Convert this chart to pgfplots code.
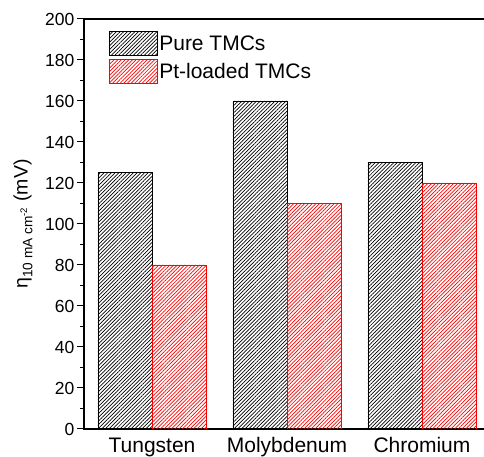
\documentclass[border=0pt]{standalone}
\usepackage{fontspec}
\setmainfont{Liberation Sans}
\usepackage{pgfplots}
\pgfplotsset{compat=1.18}
\usetikzlibrary{patterns.meta}

\tikzset{
  hatch/.style={pattern={Lines[angle=45,distance=2.6pt,line width=0.7pt]}, pattern color=#1, draw=#1, line width=0.9pt},
}

\begin{document}
\begin{tikzpicture}
\useasboundingbox (-84pt,-28pt) rectangle (400pt,429pt);
\begin{axis}[
    at={(0pt,0pt)}, anchor=south west,
    scale only axis,
    width=404pt, height=410pt,
    xmin=-0.5037, xmax=2.489,
    ymin=0, ymax=200,
    axis line style={line width=1.2pt},
    ytick={0,20,...,200},
    minor y tick num=1,
    ytick pos=left,
    tick align=outside,
    major tick length=7pt,
    minor tick length=4pt,
    every tick/.style={black, line width=1pt},
    xtick={0,1,2},
    xticklabels={Tungsten,Molybdenum,Chromium},
    major x tick style={draw=none},
    /pgf/number format/assume math mode=true,
    y tick label style={font=\fontsize{17.5}{19}\selectfont, inner sep=2.5pt},
    x tick label style={font=\fontsize{21}{24}\selectfont, inner sep=0pt, yshift=-1.5pt},
    every axis y label/.style={at={(axis description cs:-0.127,0.5)}, rotate=90, anchor=south, inner sep=0pt},
    ylabel={\fontsize{19.5}{22}\selectfont η\textsubscript{10 mA cm\textsuperscript{-2}} (mV)},
    legend style={draw=none, fill=none, at={(axis description cs:0.055,0.975)}, anchor=north west,
      font=\fontsize{21}{24}\selectfont, row sep=3pt, nodes={inner sep=1pt},
      /tikz/every even column/.append style={column sep=6pt}},
    legend cell align=left,
]
\addplot[ybar, bar width=0.4, bar shift=-0.2, hatch=black,
  legend image code/.code={\draw[hatch=black] (0pt,-12pt) rectangle (48pt,12pt);}]
  coordinates {(0,125) (1,160) (2,130)};
\addplot[ybar, bar width=0.4, bar shift=0.2, hatch=red,
  legend image code/.code={\draw[hatch=red] (0pt,-12pt) rectangle (48pt,12pt);}]
  coordinates {(0,80) (1,110) (2,120)};
\legend{Pure TMCs, Pt-loaded TMCs}
\end{axis}
\end{tikzpicture}
\end{document}
